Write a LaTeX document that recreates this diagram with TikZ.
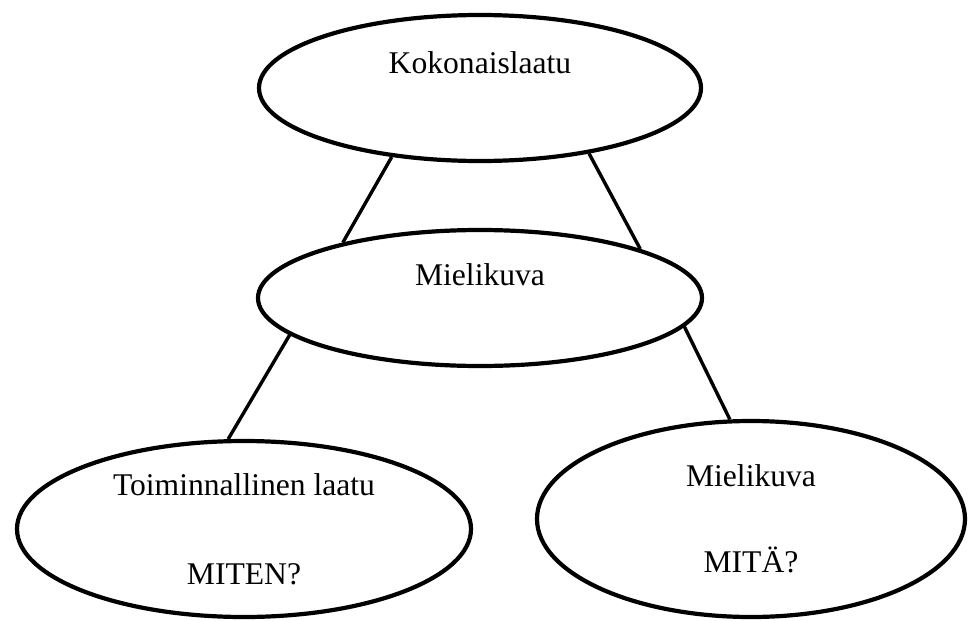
\documentclass[tikz,border=0pt]{standalone}
\usepackage{fontspec}
\setmainfont{Liberation Serif}
\usetikzlibrary{shapes.geometric}

\begin{document}
\begin{tikzpicture}[x=0.5pt,y=-0.5pt,line width=2.1pt]
\tikzstyle{bubble}=[draw,ellipse,inner sep=0pt,align=center,font=\fontsize{15.8}{19}\selectfont]
\tikzstyle{link}=[line width=1.7pt]

\useasboundingbox (0,0) rectangle (970,621);

\node[bubble,minimum width=221pt,minimum height=73pt,text height=11pt,text depth=26pt] (kokonais) at (480,88) {Kokonaislaatu};
\node[bubble,minimum width=222pt,minimum height=68pt,text height=11pt,text depth=24pt] (mielikuva) at (480,298) {Mielikuva};
\node[bubble,minimum width=227pt,minimum height=88pt] (toiminnallinen) at (244,529) {Toiminnallinen laatu\\[25.5pt]MITEN?};
\node[bubble,minimum width=214pt,minimum height=98pt] (mita) at (751,519) {Mielikuva\\[24pt]MITÄ?};

\draw[link] (kokonais.218)	-- (mielikuva.158);
\draw[link] (kokonais.329)	-- (mielikuva.17);
\draw[link] (mielikuva.191)	-- (toiminnallinen.100);
\draw[link] (mielikuva.352)	-- (mita.102);

\end{tikzpicture}
\end{document}
